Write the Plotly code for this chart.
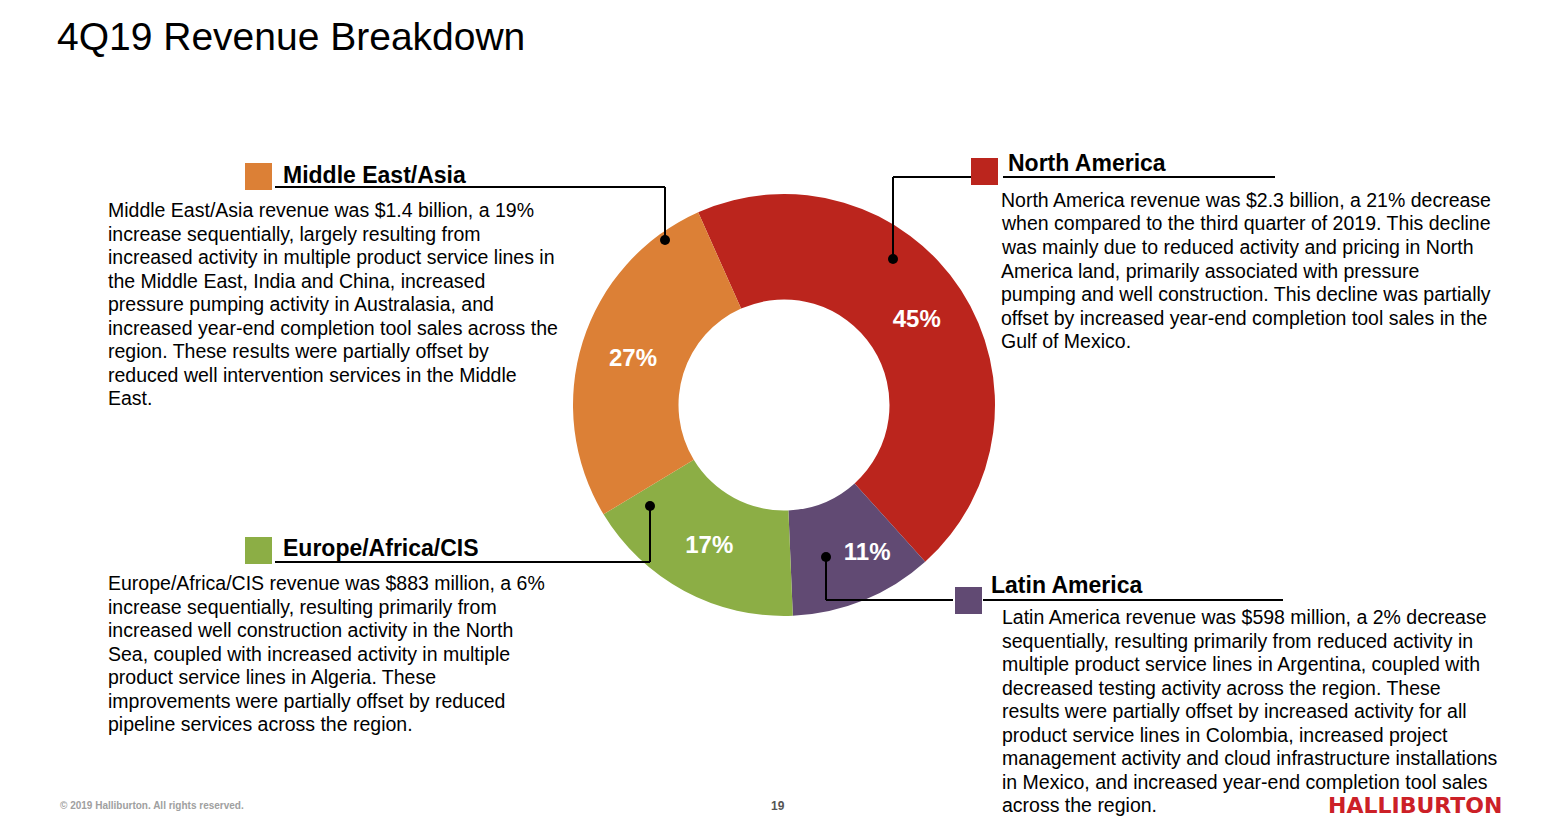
import plotly.graph_objects as go

W, H = 1560, 828

# ---- data ----
regions = ["North America", "Latin America", "Europe/Africa/CIS", "Middle East/Asia"]
shares = [45, 11, 17, 27]
colors = ["#BB251D", "#614A73", "#8CAE45", "#DC8036"]
descriptions = [
    "North America revenue was $2.3 billion, a 21% decrease<br>when compared to the third quarter of 2019. This decline<br>was mainly due to reduced activity and pricing in North<br>America land, primarily associated with pressure<br>pumping and well construction. This decline was partially<br>offset by increased year-end completion tool sales in the<br>Gulf of Mexico.",
    "Latin America revenue was $598 million, a 2% decrease<br>sequentially, resulting primarily from reduced activity in<br>multiple product service lines in Argentina, coupled with<br>decreased testing activity across the region. These<br>results were partially offset by increased activity for all<br>product service lines in Colombia, increased project<br>management activity and cloud infrastructure installations<br>in Mexico, and increased year-end completion tool sales<br>across the region.",
    "Europe/Africa/CIS revenue was $883 million, a 6%<br>increase sequentially, resulting primarily from<br>increased well construction activity in the North<br>Sea, coupled with increased activity in multiple<br>product service lines in Algeria. These<br>improvements were partially offset by reduced<br>pipeline services across the region.",
    "Middle East/Asia revenue was $1.4 billion, a 19%<br>increase sequentially, largely resulting from<br>increased activity in multiple product service lines in<br>the Middle East, India and China, increased<br>pressure pumping activity in Australasia, and<br>increased year-end completion tool sales across the<br>region. These results were partially offset by<br>reduced well intervention services in the Middle<br>East.",
]
title = "4Q19 Revenue Breakdown"
footer = "© 2019 Halliburton. All rights reserved."
page_no = "19"
logo = "HALLIBURTON"

FONT = "Liberation Sans, Arial, sans-serif"

def px(x):
    return x / W

def py(y):
    return 1 - y / H

cx, cy, R = 784, 405, 211

# percent label templates (Latin America label sits a bit right of its slice centre)
templates = ["%{percent}", "\u00a0" * 7 + "%{percent}", "%{percent}", "%{percent}"]

fig = go.Figure()
fig.add_trace(go.Pie(
    labels=regions, values=shares, sort=False, direction="clockwise", rotation=-24,
    hole=0.5, marker=dict(colors=colors, line=dict(width=0)),
    texttemplate=templates, textposition="inside", insidetextorientation="horizontal",
    textfont=dict(family=FONT, size=24, color="white", weight="bold"),
    domain=dict(x=[px(cx - R), px(cx + R)], y=[py(cy + R), py(cy - R)]),
    showlegend=False, hoverinfo="label+percent",
))

callouts = {
    "North America": dict(sq=(971, 158), title=(1006, 163), ul=(1003, 1275, 177),
                          leader=[(971, 177), (893, 177), (893, 259)], text=(1000, 200)),
    "Latin America": dict(sq=(955, 587), title=(989, 585), ul=(983, 1283, 600),
                          leader=[(953, 600), (826, 600), (826, 557)], text=(1001, 617)),
    "Europe/Africa/CIS": dict(sq=(245, 537), title=(281, 548), ul=(275, 650, 562),
                              leader=[(650, 562), (650, 506)], text=(107, 583)),
    "Middle East/Asia": dict(sq=(245, 163), title=(281, 175), ul=(275, 665, 187),
                             leader=[(665, 187), (665, 240)], text=(107, 210)),
}
LINE_H = 23.5

shapes = []
annotations = []
for name, col, desc in zip(regions, colors, descriptions):
    c = callouts[name]
    sx, sy = c["sq"]
    shapes.append(dict(type="rect", xref="paper", yref="paper",
                       x0=px(sx), x1=px(sx + 27), y0=py(sy + 27), y1=py(sy),
                       fillcolor=col, line=dict(width=0)))
    x0, x1, uy = c["ul"]
    shapes.append(dict(type="line", xref="paper", yref="paper",
                       x0=px(x0), x1=px(x1), y0=py(uy), y1=py(uy),
                       line=dict(color="black", width=2)))
    pts = c["leader"]
    for (ax, ay), (bx, by) in zip(pts[:-1], pts[1:]):
        shapes.append(dict(type="line", xref="paper", yref="paper",
                           x0=px(ax), x1=px(bx), y0=py(ay), y1=py(by),
                           line=dict(color="black", width=2)))
    dx, dy = pts[-1]
    r = 5
    shapes.append(dict(type="circle", xref="paper", yref="paper",
                       x0=px(dx - r), x1=px(dx + r), y0=py(dy + r), y1=py(dy - r),
                       fillcolor="black", line=dict(width=0)))
    tx, ty = c["title"]
    annotations.append(dict(x=px(tx), y=py(ty), xref="paper", yref="paper",
                            xanchor="left", yanchor="middle", showarrow=False,
                            text="<b>" + name + "</b>",
                            font=dict(family=FONT, size=23, color="black")))
    ptx, pty = c["text"]
    for i, line in enumerate(desc.split("<br>")):
        annotations.append(dict(x=px(ptx), y=py(pty + i * LINE_H), xref="paper", yref="paper",
                                xanchor="left", yanchor="middle", align="left", showarrow=False,
                                borderpad=0,
                                text=line, font=dict(family=FONT, size=19.5, color="black")))

annotations.append(dict(x=px(55), y=py(37), xref="paper", yref="paper", xanchor="left",
                        yanchor="middle", showarrow=False, text=title,
                        font=dict(family=FONT, size=39, color="black")))
annotations.append(dict(x=px(58), y=py(805), xref="paper", yref="paper", xanchor="left",
                        yanchor="middle", showarrow=False, text="<b>" + footer + "</b>",
                        font=dict(family=FONT, size=10, color="#A0A0A0")))
annotations.append(dict(x=px(778), y=py(806), xref="paper", yref="paper", xanchor="center",
                        yanchor="middle", showarrow=False, text="<b>" + page_no + "</b>",
                        font=dict(family=FONT, size=12, color="#555555")))
annotations.append(dict(x=px(1415), y=py(805), xref="paper", yref="paper", xanchor="center",
                        yanchor="middle", showarrow=False, text="<b>" + logo + "</b>",
                        borderpad=0,
                        font=dict(family="DejaVu Sans, sans-serif", size=22, color="#CC2027")))

fig.update_layout(
    width=W, height=H, margin=dict(l=0, r=0, t=0, b=0),
    paper_bgcolor="white", plot_bgcolor="white",
    shapes=shapes, annotations=annotations,
)

fig.write_html("out.html")
